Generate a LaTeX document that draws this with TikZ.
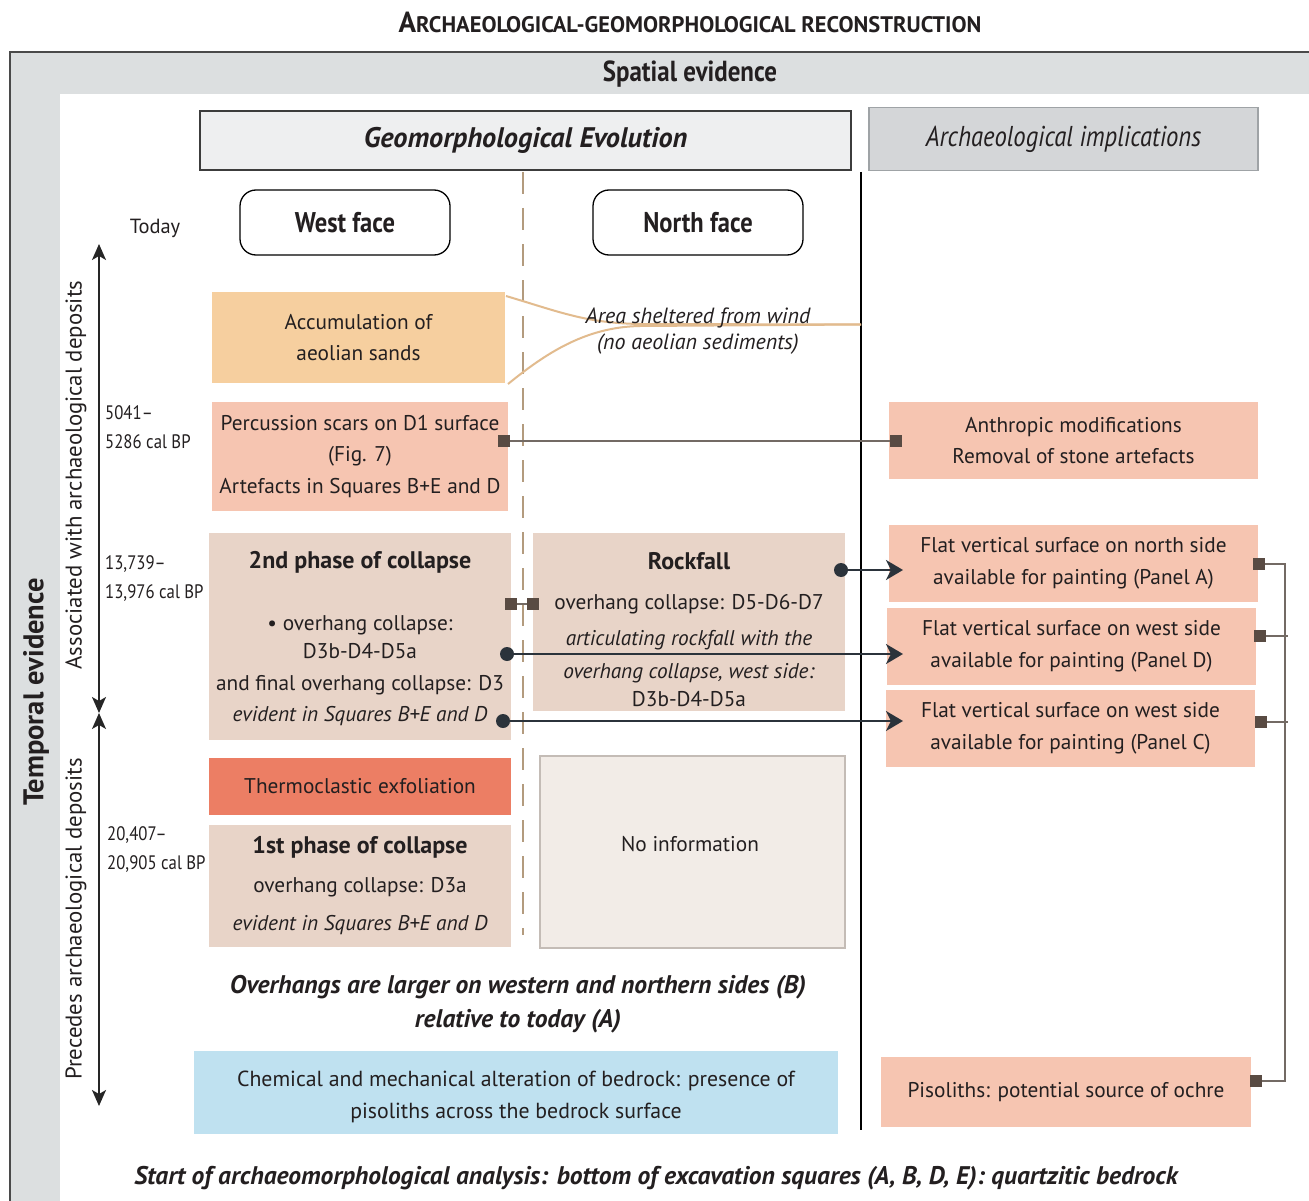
\documentclass[tikz,border=0pt]{standalone}
\usepackage{fontspec}
\setmainfont{PT Sans}
\newfontfamily\condfont[FakeStretch=0.86]{PT Sans}
\usetikzlibrary{arrows.meta}
\definecolor{framegray}{HTML}{DCDFE0}
\definecolor{frameline}{HTML}{4A4A4A}
\definecolor{geofill}{HTML}{EEEFF0}
\definecolor{geoborder}{HTML}{3C3C3C}
\definecolor{archfill}{HTML}{D4D6D8}
\definecolor{archborder}{HTML}{9FA3A6}
\definecolor{sandfill}{HTML}{F6CF9F}
\definecolor{salmon}{HTML}{F6C5B1}
\definecolor{beige}{HTML}{E8D4C8}
\definecolor{coral}{HTML}{EC7E64}
\definecolor{nofill}{HTML}{F2ECE7}
\definecolor{noborder}{HTML}{C4BCB6}
\definecolor{bluefill}{HTML}{BFE1F0}
\definecolor{tanline}{HTML}{E2BB8E}
\definecolor{dashtan}{HTML}{B39B7E}
\definecolor{sqcol}{HTML}{594B43}
\definecolor{conncol}{HTML}{736A64}
\definecolor{arrcol}{HTML}{2B333B}
\definecolor{txt}{HTML}{231F20}
\newcommand{\boxtitle}[1]{{\bfseries\fontsize{24}{31}\selectfont #1}}
\tikzset{
  body/.style={font=\fontsize{21.3}{31.5}\selectfont, text=txt, align=center},
  box/.style={body, inner sep=0pt},
  facebox/.style={draw=black, line width=1.3pt, rounded corners=16pt, fill=white,
     minimum width=210pt, minimum height=65pt, font=\condfont\bfseries\fontsize{28.5}{30}\selectfont, text=txt},
  sq/.style={fill=sqcol, minimum size=12pt, inner sep=0pt},
  conn/.style={draw=conncol, line width=2pt},
  dotn/.style={circle, fill=arrcol, minimum size=14pt, inner sep=0pt},
  arr/.style={draw=arrcol, line width=2pt, -{Stealth[length=17pt,width=20pt,inset=5pt]}},
  tarr/.style={draw=black!85, line width=1.6pt, {Stealth[length=16pt,width=14pt,inset=4pt]}-{Stealth[length=16pt,width=14pt,inset=4pt]}},
  datel/.style={font=\condfont\fontsize{19.5}{29}\selectfont, text=txt, align=left, anchor=north west, inner sep=0pt},
  sidel/.style={font=\fontsize{22.8}{28}\selectfont, text=txt, rotate=90},
  bigital/.style={font=\bfseries\itshape\fontsize{25.5}{34}\selectfont, text=txt, align=center},
}
\begin{document}
\begin{tikzpicture}[x=1pt,y=-1pt]
\useasboundingbox (0,0) rectangle (1309,1201);
% frame
\fill[framegray] (10,52) rectangle (1309,1201);
\fill[white] (60,94) rectangle (1309,1201);
\draw[frameline, line width=2pt] (10,1201) -- (10,52) -- (1309,52);
% title
\node[font=\bfseries, text=txt] (title) at (690,22) {{\fontsize{29}{30}\selectfont A}{\fontsize{22.5}{30}\selectfont RCHAEOLOGICAL-GEOMORPHOLOGICAL RECONSTRUCTION}};
\node[font=\condfont\bfseries\fontsize{29}{30}\selectfont, text=txt] (spatial) at (690,74) {Spatial evidence};
\node[font=\bfseries\fontsize{28.5}{30}\selectfont, text=txt, rotate=90] (temporal) at (36,692) {Temporal evidence};
% headers
\node[box, draw=geoborder, line width=1.5pt, fill=geofill, minimum width=651pt, minimum height=59pt,
      font=\bfseries\itshape\fontsize{28.3}{30}\selectfont] (geo) at (525.5,140.5) {Geomorphological Evolution};
\node[box, draw=archborder, line width=1.5pt, fill=archfill, minimum width=389pt, minimum height=63pt,
      font=\condfont\itshape\fontsize{28.7}{30}\selectfont] (arch) at (1063.5,139) {Archaeological implications};
% divider lines
\coordinate (dtop) at (523,172);
\coordinate (dbot) at (523,935);
\draw[dashtan, line width=1.6pt, dash pattern=on 22pt off 14pt] (dtop) -- (dbot);
\coordinate (stop) at (861,172);
\coordinate (sbot) at (861,1130);
\draw[black, line width=2pt] (stop) -- (sbot);
% faces
\node[body, font=\fontsize{20.5}{30}\selectfont] (today) at (155,228) {Today};
\node[facebox] (west) at (345,222.5) {West face};
\node[facebox] (north) at (698,222.5) {North face};
% time axis
\coordinate (ta1) at (99,244);
\coordinate (ta2) at (99,713);
\coordinate (ta3) at (99,1106);
\draw[tarr] (ta1) -- (ta2);
\draw[tarr] (ta2) -- (ta3);
\node[sidel] (assoc) at (76,475) {Associated with archaeological deposits};
\node[sidel] (prec) at (76,919) {Precedes archaeological deposits};
\node[datel] (d1) at (105,405) {5041–\\5286 cal BP};
\node[datel] (d2) at (105,555) {13,739–\\13,976 cal BP};
\node[datel] (d3) at (107,826) {20,407–\\20,905 cal BP};
% boxes west
\node[box, fill=sandfill, minimum width=293pt, minimum height=91pt] (accum) at (358.5,337.5) {Accumulation of\\aeolian sands};
\node[box, fill=salmon, minimum width=296pt, minimum height=109pt] (perc) at (360,456.5) {Percussion scars on D1 surface\\(Fig. 7)\\Artefacts in Squares B+E and D};
\node[box, fill=beige, minimum width=302pt, minimum height=207pt] (phase2) at (360,636.5) {};
\node[body, anchor=north] (phase2txt) at (360,548) {\boxtitle{2nd phase of collapse}\\[30pt]• overhang collapse:\\[-3pt]D3b-D4-D5a\\and final overhang collapse: D3\\\textit{evident in Squares B+E and D}};
\node[box, fill=beige, minimum width=312pt, minimum height=178pt] (rock) at (689,622) {};
\node[body, anchor=north] (rocktxt) at (689,549) {\boxtitle{Rockfall}\\[8pt]overhang collapse: D5-D6-D7\\[5pt]\textit{articulating rockfall with the}\\[1pt]\textit{overhang collapse, west side:}\\[-3pt]D3b-D4-D5a};
\node[box, fill=coral, minimum width=302pt, minimum height=57pt] (thermo) at (360,786.5) {Thermoclastic exfoliation};
\node[box, fill=beige, minimum width=302pt, minimum height=122pt] (phase1) at (360,886) {\boxtitle{1st phase of collapse}\\[7pt]overhang collapse: D3a\\[7pt]\textit{evident in Squares B+E and D}};
\node[box, fill=nofill, draw=noborder, line width=2pt, minimum width=305pt, minimum height=192pt] (noinfo) at (692.5,852) {};
\node[body] (noinfotxt) at (690,844) {No information};
% sheltered area
\coordinate (c1) at (506,296);
\coordinate (c2) at (508,384);
\coordinate (cm1) at (640,324);
\coordinate (cm2) at (640,326);
\coordinate (cend) at (861,324.5);
\draw[tanline, line width=2pt] (c1) .. controls (560,312) and (585,323) .. (cm1) -- (cend);
\draw[tanline, line width=2pt] (c2) .. controls (545,354) and (585,327) .. (cm2) -- (cend);
\node[body, font=\itshape\fontsize{22}{26}\selectfont] (shelt) at (698,331) {Area sheltered from wind\\(no aeolian sediments)};
% right boxes
\node[box, fill=salmon, minimum width=369pt, minimum height=77pt] (anth) at (1073.5,440.5) {Anthropic modifications\\Removal of stone artefacts};
\node[box, fill=salmon, minimum width=369pt, minimum height=77pt] (fn) at (1073.5,563.5) {Flat vertical surface on north side\\available for painting (Panel A)};
\node[box, fill=salmon, minimum width=369pt, minimum height=77pt] (fwd) at (1071.5,646.5) {Flat vertical surface on west side\\available for painting (Panel D)};
\node[box, fill=salmon, minimum width=369pt, minimum height=77pt] (fwc) at (1070.5,728.5) {Flat vertical surface on west side\\available for painting (Panel C)};
\node[box, fill=salmon, minimum width=370pt, minimum height=70pt] (piso) at (1066,1092) {Pisoliths: potential source of ochre};
% bottom
\node[bigital] (overh) at (518,1004) {Overhangs are larger on western and northern sides (B)\\relative to today (A)};
\node[box, fill=bluefill, minimum width=644pt, minimum height=83pt] (blue) at (516,1092.5) {};
\node[body, font=\fontsize{21.8}{31.5}\selectfont] (bluetxt) at (516,1097) {Chemical and mechanical alteration of bedrock: presence of\\pisoliths across the bedrock surface};
\node[bigital] (start) at (656,1178) {Start of archaeomorphological analysis: bottom of excavation squares (A, B, D, E): quartzitic bedrock};
% square connectors
\node[sq] (s1) at (504,441) {};
\node[sq] (s2) at (896,441) {};
\draw[conn] (s1) -- (s2);
\node[sq] (s3) at (511,604) {};
\node[sq] (s4) at (533,604) {};
\draw[conn] (s3) -- (s4);
% arrows
\node[dotn] (dt1) at (841,570) {};
\node[dotn] (dt2) at (507,654) {};
\node[dotn] (dt3) at (503,721) {};
\coordinate (e1) at (903,570);
\coordinate (e2) at (903,654);
\coordinate (e3) at (903,721);
\draw[arr] (dt1.center) -- (e1);
\draw[arr] (dt2.center) -- (e2);
\draw[arr] (dt3.center) -- (e3);
% bracket right
\node[sq] (r1) at (1259,564) {};
\node[sq] (r2) at (1260,636) {};
\node[sq] (r3) at (1261,722) {};
\node[sq] (r4) at (1256,1081) {};
\coordinate (bb) at (1285,1081);
\coordinate (t2) at (1288,636);
\coordinate (t3) at (1288,722);
\draw[conn] (r1) -| (bb) -- (r4);
\draw[conn] (r2) -- (t2);
\draw[conn] (r3) -- (t3);
\end{tikzpicture}
\end{document}
